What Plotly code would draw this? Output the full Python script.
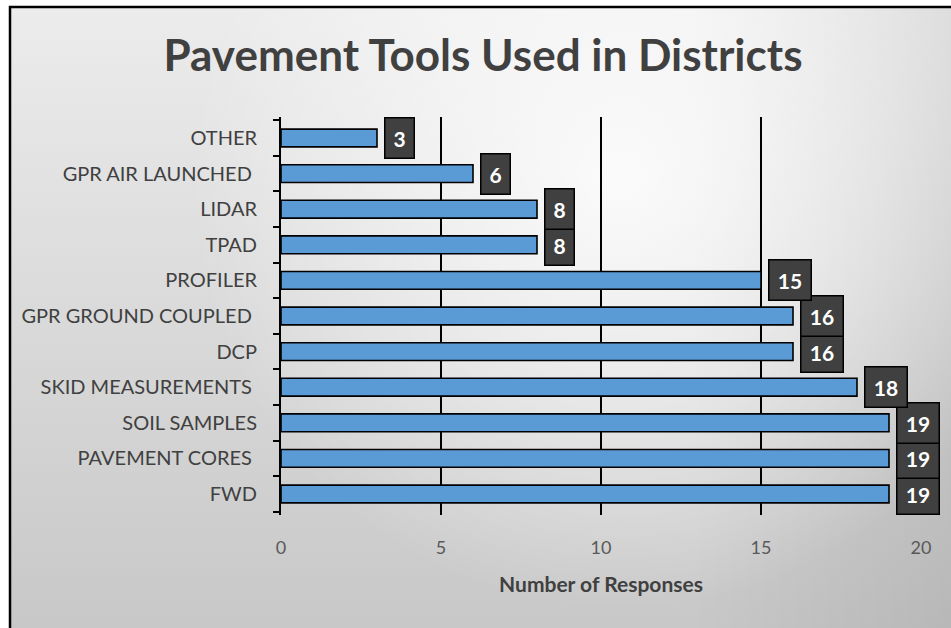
import plotly.graph_objects as go
import urllib.parse

categories = ["FWD", "PAVEMENT CORES ", "SOIL SAMPLES", "SKID MEASUREMENTS ", "DCP",
              "GPR GROUND COUPLED ", "PROFILER", "TPAD", "LIDAR", "GPR AIR LAUNCHED ", "OTHER"]
values = [19, 19, 19, 18, 16, 16, 15, 8, 8, 6, 3]
x_ticks = [0, 5, 10, 15, 20]

title_text = "Pavement Tools Used in Districts"
x_title = "Number of Responses"

W, H = 951, 628
ML, MR, MT, MB = 281, 30, 117, 113
PW, PH = W - ML - MR, H - MT - MB

svg = f'''<svg xmlns="http://www.w3.org/2000/svg" width="{W}" height="{H}" viewBox="0 0 {W} {H}">
<defs>
<linearGradient id="lg" x1="0" y1="0" x2="0" y2="1">
<stop offset="0" stop-color="#ececec"/><stop offset="1" stop-color="#c6c6c6"/>
</linearGradient>
<linearGradient id="hg" x1="0" y1="0" x2="1" y2="0">
<stop offset="0" stop-color="#000" stop-opacity="0"/><stop offset="0.7" stop-color="#000" stop-opacity="0"/><stop offset="1" stop-color="#000" stop-opacity="0.09"/>
</linearGradient>
<radialGradient id="rg" gradientUnits="userSpaceOnUse" cx="620" cy="180" r="430">
<stop offset="0" stop-color="#fff" stop-opacity="0.85"/><stop offset="0.5" stop-color="#fff" stop-opacity="0.45"/><stop offset="1" stop-color="#fff" stop-opacity="0"/>
</radialGradient>
</defs>
<rect x="0" y="0" width="{W}" height="{H}" fill="#ffffff"/>
<rect x="10" y="7" width="{W+20}" height="{H+20}" fill="url(#lg)"/>
<rect x="10" y="7" width="{W+20}" height="{H+20}" fill="url(#hg)"/>
<rect x="10" y="7" width="{W+20}" height="{H+20}" fill="url(#rg)"/>
<rect x="10" y="7" width="{W+20}" height="{H+20}" fill="none" stroke="#000" stroke-width="2.5"/>
</svg>'''
svg_uri = "data:image/svg+xml;charset=utf-8," + urllib.parse.quote(svg)

fig = go.Figure()
fig.add_trace(go.Bar(
    y=categories, x=values, orientation="h",
    marker=dict(color="#5B9BD5", line=dict(color="#000000", width=1.6)),
    hoverinfo="x+y",
))

annotations = []
for c, v in zip(categories, values):
    t = str(v)
    annotations.append(dict(
        x=v, y=c, xref="x", yref="y", text=f"<b>{t}</b>", showarrow=False,
        xanchor="left", yanchor="middle", xshift=7,
        font=dict(family="Lato, sans-serif", size=21, color="#ffffff"),
        bgcolor="#404040", bordercolor="#000000", borderwidth=1.5, borderpad=6,
        width=3 + 13 * len(t), height=27,
    ))

fig.update_layout(
    width=W, height=H,
    margin=dict(l=ML, r=MR, t=MT, b=MB, pad=0),
    paper_bgcolor="#ffffff", plot_bgcolor="rgba(0,0,0,0)",
    showlegend=False,
    bargap=0.5,
    title=dict(text=f"<b>{title_text}</b>", x=(483) / W, xanchor="center",
               y=1 - 56 / H, yanchor="middle",
               font=dict(family="Lato, sans-serif", size=44, color="#404040")),
    xaxis=dict(range=[0, 20], tickvals=x_ticks, showgrid=True, gridcolor="#000000", gridwidth=1.5,
               zeroline=False, showline=False, ticks="",
               ticklabelstandoff=20,
               tickfont=dict(family="Lato, sans-serif", size=18, color="#595959"),
               title=dict(text=f"<b>{x_title}</b>", standoff=20,
                          font=dict(family="Lato, sans-serif", size=21, color="#404040"))),
    yaxis=dict(type="category", categoryorder="array", categoryarray=categories,
               showline=True, linecolor="#000000", linewidth=2,
               ticks="outside", ticklen=6, tickcolor="#000000", tickwidth=1.5,
               tickson="boundaries", showgrid=False, zeroline=False,
               tickfont=dict(family="Lato, sans-serif", size=20, color="#404040"),
               ticklabelstandoff=18),
    annotations=annotations,
    images=[dict(source=svg_uri, xref="paper", yref="paper",
                 x=-ML / PW, y=1 + MT / PH, sizex=W / PW, sizey=H / PH,
                 xanchor="left", yanchor="top", sizing="stretch", layer="below")],
)

fig.write_html("out.html", config={"displayModeBar": False},
               post_script="document.body.style.margin='0';document.body.style.overflow='hidden';")
